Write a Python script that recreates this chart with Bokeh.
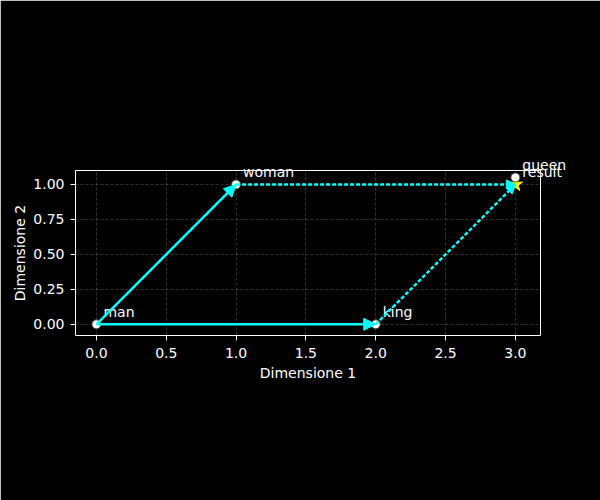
from bokeh.plotting import figure
from bokeh.models import ColumnDataSource, Arrow, NormalHead, FixedTicker, Range1d, Label
from bokeh.embed import file_html
from bokeh.resources import INLINE

# data
words = ["man", "woman", "king", "queen"]
word_x = [0.0, 1.0, 2.0, 3.0]
word_y = [0.0, 1.0, 0.0, 1.05]
result_label = ["result"]
result_x = [3.0]
result_y = [1.0]
# arrows: start and end coordinates
solid_x0 = [0.0, 0.0]
solid_y0 = [0.0, 0.0]
solid_x1 = [1.0, 2.0]
solid_y1 = [1.0, 0.0]
dashed_x0 = [1.0, 2.0]
dashed_y0 = [1.0, 0.0]
dashed_x1 = [3.0, 3.0]
dashed_y1 = [1.0, 1.0]
x_ticks = [0.0, 0.5, 1.0, 1.5, 2.0, 2.5, 3.0]
y_ticks = [0.0, 0.25, 0.5, 0.75, 1.0]

FONT = "DejaVu Sans"
CYAN = "#00ffff"

p = figure(width=600, height=500,
           output_backend="svg", toolbar_location=None,
           x_range=Range1d(-0.15, 3.18), y_range=Range1d(-0.08, 1.1),
           min_border_left=75, min_border_right=60,
           min_border_top=170, min_border_bottom=165)
p.background_fill_color = "black"
p.border_fill_color = "black"
p.outline_line_color = "white"
p.outline_line_width = 1

for ax in (p.xaxis, p.yaxis):
    ax.axis_line_color = None
    ax.major_tick_line_color = "white"
    ax.major_tick_out = 5
    ax.major_tick_in = 0
    ax.minor_tick_line_color = None
    ax.major_label_text_color = "white"
    ax.major_label_text_font = FONT
    ax.major_label_text_font_size = "14px"
    ax.axis_label_text_color = "white"
    ax.axis_label_text_font = FONT
    ax.axis_label_text_font_size = "14px"
    ax.axis_label_text_font_style = "normal"

p.xaxis.ticker = FixedTicker(ticks=x_ticks)
p.yaxis.ticker = FixedTicker(ticks=y_ticks)
p.xaxis.major_label_overrides = {t: f"{t:.1f}" for t in x_ticks}
p.yaxis.major_label_overrides = {t: f"{t:.2f}" for t in y_ticks}
p.xaxis.axis_label = "Dimensione 1"
p.yaxis.axis_label = "Dimensione 2"
p.xaxis.major_label_standoff = 7
p.yaxis.major_label_standoff = 6
p.xaxis.axis_label_standoff = 4
p.yaxis.axis_label_standoff = 2

p.grid.grid_line_color = "#888888"
p.grid.grid_line_alpha = 0.6
p.grid.grid_line_dash = "3 2"
p.grid.grid_line_width = 0.6
p.xgrid.ticker = FixedTicker(ticks=x_ticks)
p.ygrid.ticker = FixedTicker(ticks=y_ticks)

res_src = ColumnDataSource(dict(x=result_x, y=result_y))
word_src = ColumnDataSource(dict(x=word_x, y=word_y))

p.scatter("x", "y", source=res_src, marker="star", size=15,
          fill_color="yellow", line_color="yellow")
p.scatter("x", "y", source=word_src, marker="circle", size=9,
          fill_color="white", line_color="#444444", line_width=1)

solid_src = ColumnDataSource(dict(x0=solid_x0, y0=solid_y0, x1=solid_x1, y1=solid_y1))
dashed_src = ColumnDataSource(dict(x0=dashed_x0, y0=dashed_y0, x1=dashed_x1, y1=dashed_y1))

p.add_layout(Arrow(source=solid_src, x_start="x0", y_start="y0", x_end="x1", y_end="y1",
                   line_color=CYAN, line_width=2.5,
                   end=NormalHead(size=12, fill_color=CYAN, line_color=CYAN, line_width=1)))
p.add_layout(Arrow(source=dashed_src, x_start="x0", y_start="y0", x_end="x1", y_end="y1",
                   line_color=CYAN, line_width=2.5, line_dash="4 2",
                   end=NormalHead(size=9, fill_color=CYAN, line_color=CYAN, line_width=1)))

# labels placed in a side panel so they are not clipped at the frame edge
for xs, ys, ts in ((word_x, word_y, words), (result_x, result_y, result_label)):
    for x, y, t in zip(xs, ys, ts):
        p.add_layout(Label(x=x, y=y, text=t, x_offset=7, y_offset=12,
                           text_color="white", text_font=FONT, text_font_size="14px",
                           text_baseline="alphabetic"), "above")

open("out.html", "w").write(file_html(p, INLINE))
